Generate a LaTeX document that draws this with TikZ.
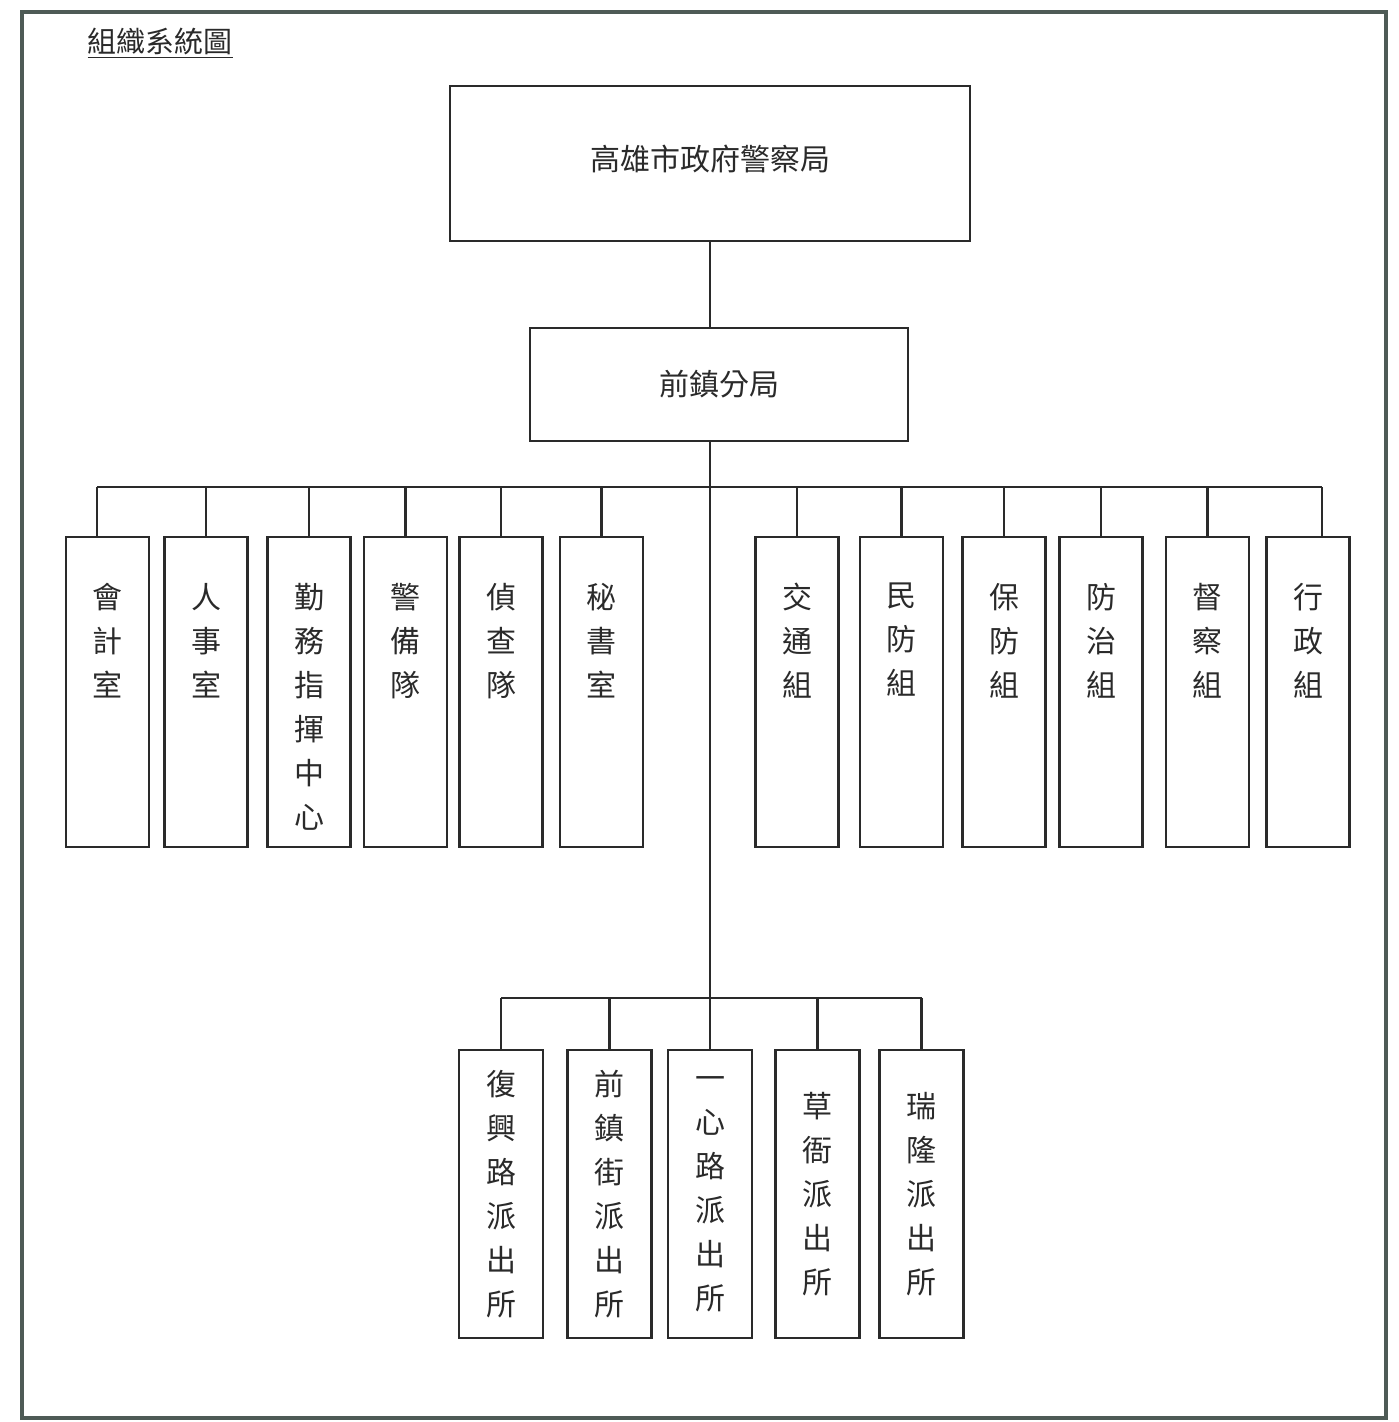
\documentclass[tikz,border=0pt]{standalone}
\usepackage{fontspec}
\newfontfamily\cjk{Noto Sans CJK TC}
\definecolor{ink}{HTML}{2A2A2A}
\definecolor{rim}{HTML}{4E5B56}
\newcommand{\topcol}[1]{\parbox[c][155pt][t]{41pt}{\centering\vspace*{23pt}#1}}

\begin{document}
\begin{tikzpicture}[x=0.5pt,y=-0.5pt,
    box/.style={draw=ink,line width=1.2pt,inner sep=0pt,text=ink,font=\cjk\fontsize{15}{22}\selectfont},
    unit/.style={box,anchor=north,minimum width=41.5pt,minimum height=155pt},
    station/.style={box,anchor=north,minimum width=42pt,minimum height=144pt,align=center},
    wire/.style={draw=ink,line width=1.2pt}]
    \useasboundingbox (0,0) rectangle (1398,1422);
    \draw[rim,line width=2pt] (22,12) rectangle (1386,1418);
    \node[text=ink,font=\cjk\fontsize{14.5}{16}\selectfont] (title) at (160,43) {\underline{組織系統圖}};

    \node[box,minimum width=260pt,minimum height=77.5pt] (hq) at (710,163.5) {\raisebox{6pt}{高雄市政府警察局}};
    \node[box,minimum width=189pt,minimum height=56.5pt] (br) at (719,384.5) {\raisebox{-3pt}{前鎮分局}};

    \begin{scope}[every node/.style={unit}]
        \node (kj) at (107.5,536) {\topcol{會\\計\\室}};
        \node (rs) at (206,536) {\topcol{人\\事\\室}};
        \node (qw) at (309,536) {\topcol{勤\\務\\指\\揮\\中\\心}};
        \node (jb) at (405.5,536) {\topcol{警\\備\\隊}};
        \node (zc) at (501,536) {\topcol{偵\\查\\隊}};
        \node (ms) at (601.5,536) {\topcol{秘\\書\\室}};
        \node (jt) at (797,536) {\topcol{交\\通\\組}};
        \node (mf) at (901.5,536) {\topcol{民\\防\\組}};
        \node (bf) at (1004,536) {\topcol{保\\防\\組}};
        \node (fz) at (1101,536) {\topcol{防\\治\\組}};
        \node (dc) at (1207.5,536) {\topcol{督\\察\\組}};
        \node (xz) at (1308,536) {\topcol{行\\政\\組}};
    \end{scope}
    \begin{scope}[every node/.style={station}]
        \node (fx) at (501,1049) {復\\興\\路\\派\\出\\所};
        \node (qz) at (609.5,1049) {前\\鎮\\街\\派\\出\\所};
        \node (yx) at (710,1049) {一\\心\\路\\派\\出\\所};
        \node (cy) at (817.5,1049) {草\\衙\\派\\出\\所};
        \node (rl) at (921.5,1049) {瑞\\隆\\派\\出\\所};
    \end{scope}

    \coordinate (upbar) at (710,487);
    \coordinate (lowbar) at (710,998);

    \draw[wire] (hq.south) -- (hq.south |- br.north);
    \draw[wire] (hq.south |- br.south) -- (yx.north);
    \draw[wire] ([xshift=-5.25pt]kj.north |- upbar) -- ([xshift=7pt]xz.north |- upbar);
    \draw[wire] ([xshift=-5.25pt]kj.north) -- ([xshift=-5.25pt]kj.north |- upbar);
    \draw[wire] ([xshift=7pt]xz.north) -- ([xshift=7pt]xz.north |- upbar);
    \foreach \u in {rs,qw,jb,zc,ms,jt,mf,bf,fz,dc}
        \draw[wire] (\u.north) -- (\u.north |- upbar);
    \draw[wire] (fx.north |- lowbar) -- (rl.north |- lowbar);
    \foreach \u in {fx,qz,cy,rl}
        \draw[wire] (\u.north) -- (\u.north |- lowbar);
\end{tikzpicture}
\end{document}
